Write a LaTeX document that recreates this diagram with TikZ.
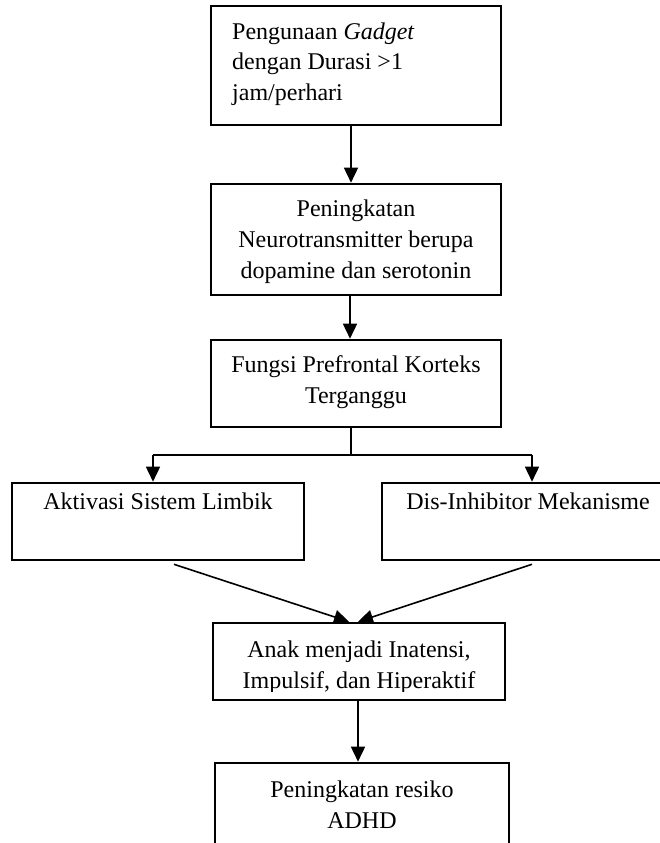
\documentclass[tikz,border=0pt]{standalone}
\usepackage{fontspec}
\setmainfont{Liberation Serif}
\usetikzlibrary{arrows.meta,calc}
\begin{document}
\begin{tikzpicture}[x=1pt,y=-1pt,
  box/.style={draw=black, line width=2.6pt, rectangle, inner sep=0pt, fill=none},
  conn/.style={line width=1.6pt, -{Triangle[width=14pt,length=15pt]}},
  plain/.style={line width=1.6pt},
  txt/.style={anchor=base, inner sep=0pt, font=\fontsize{24}{30}\selectfont},
  txtl/.style={txt, anchor=base west}]
\useasboundingbox (0,0) rectangle (660,843);
\clip (0,0) rectangle (660,843);

% boxes
\node[box, minimum width=290pt, minimum height=119pt] (b1) at (356,65.5) {};
\node[box, minimum width=290pt, minimum height=111pt] (b2) at (356,239.5) {};
\node[box, minimum width=290pt, minimum height=87pt] (b3) at (356,383.5) {};
\node[box, minimum width=292pt, minimum height=77pt] (bl) at (158,521.5) {};
\node[box, minimum width=292pt, minimum height=77pt] (br) at (528,521.5) {};
\node[box, minimum width=292pt, minimum height=77pt] (ba) at (359,661.5) {};
\node[box, minimum width=294pt, minimum height=137pt] (bd) at (362,831.5) {};

% texts
\node[txtl] (t1a) at (232,40) {Pengunaan \textit{Gadget}};
\node[txtl] (t1b) at (232,70) {dengan Durasi >1};
\node[txtl] (t1c) at (232,100) {jam/perhari};
\node[txt] (t2a) at (356,216) {Peningkatan};
\node[txt] (t2b) at (356,247) {Neurotransmitter berupa};
\node[txt] (t2c) at (356,278) {dopamine dan serotonin};
\node[txt] (t3a) at (356,372) {Fungsi Prefrontal Korteks};
\node[txt] (t3b) at (356,403) {Terganggu};
\node[txt] (tl) at (158,509) {Aktivasi Sistem Limbik};
\node[txt] (tr) at (528,509) {Dis-Inhibitor Mekanisme};
\node[txt] (tAa) at (359,657) {Anak menjadi Inatensi,};
\begin{scope}
  \clip (215,625) rectangle (503,691);
  \node[txt] (tAb) at (359,688) {Impulsif, dan Hiperaktif};
\end{scope}
\node[txt] (tDa) at (362,797) {Peningkatan resiko};
\node[txt] (tDb) at (362,828) {ADHD};

% connectors
\draw[conn] ([xshift=-5pt]b1.south) -- ([xshift=-5pt]b1.south |- b2.north);
\draw[conn] ([xshift=-6pt]b2.south) -- ([xshift=-6pt]b2.south |- b3.north);
\coordinate (j) at (351,455);
\coordinate (jl) at (153,455);
\coordinate (jr) at (532,455);
\draw[plain] ([xshift=-5pt]b3.south) -- (j);
\draw[plain] (jl) -- (jr);
\draw[conn] (jl) -- (jl |- bl.north);
\draw[conn] (jr) -- (jr |- br.north);
\draw[conn] ($(bl.south)+(16,3)$) -- ($(ba.north)+(-10,0)$);
\draw[conn] ($(br.south)+(4,3)$) -- ($(ba.north)+(-1,0)$);
\draw[conn] ([xshift=-1pt]ba.south) -- ([xshift=-1pt]ba.south |- bd.north);
\end{tikzpicture}
\end{document}
